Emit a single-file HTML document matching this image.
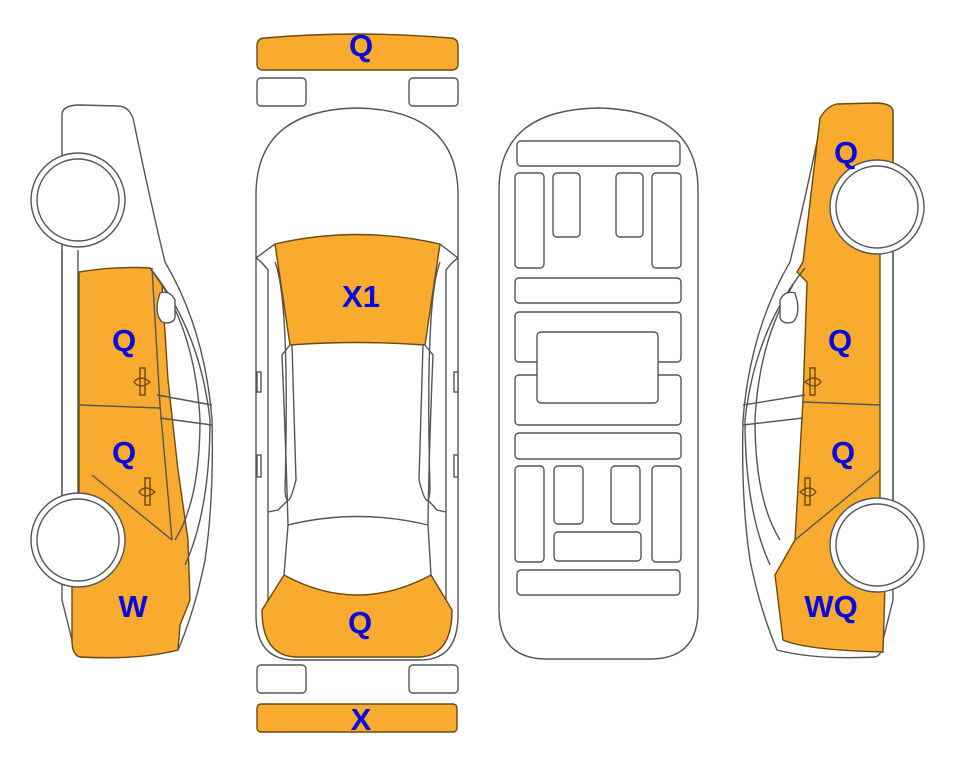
<!DOCTYPE html>
<html><head><meta charset="utf-8"><style>
html,body{margin:0;padding:0;background:#fff;}
svg{display:block;}
text{font-family:"Liberation Sans",Arial,sans-serif;font-weight:bold;fill:#0a0ad8;font-size:31px;text-anchor:middle;}
</style></head><body>
<svg width="963" height="768" viewBox="0 0 963 768" xmlns="http://www.w3.org/2000/svg">
<g fill="none" stroke="#555" stroke-width="1.4">

<path d="M257,46 Q257,38 265,38 Q357,30 450,38 Q458,38 458,46 L458,64 Q458,70 452,70 L263,70 Q257,70 257,64 Z" fill="#F9AB2F" stroke="#6b4a10"/>
<rect x="257" y="78" width="49" height="28" rx="4" fill="#fff"/>
<rect x="409" y="78" width="49" height="28" rx="4" fill="#fff"/>
<rect x="257" y="665" width="49" height="28" rx="4" fill="#fff"/>
<rect x="409" y="665" width="49" height="28" rx="4" fill="#fff"/>
<rect x="257" y="704" width="200" height="28" rx="4" fill="#F9AB2F" stroke="#6b4a10"/>

<path d="M256,195 Q256,110 357,108 Q458,110 458,195 L458,615 Q458,660 420,660 L295,660 Q256,660 256,615 Z" fill="#fff"/>
<path d="M275,244 Q357,225 440,244 L425,345 Q357,340 290,345 Z" fill="#F9AB2F" stroke="#6b4a10"/>
<path d="M256,258 L275,244 M440,244 L458,258"/>
<path d="M256,258 Q262,262 268,270 L268,610 M458,258 Q452,262 446,270 L446,610"/>
<path d="M275,262 Q290,300 285,490 Q287,515 296,480 L292,345 M440,262 Q425,300 430,490 Q428,515 419,480 L423,345"/>
<path d="M290,345 L282,355 Q286,450 288,525 M425,345 L433,355 Q429,450 428,525"/>
<path d="M288,525 Q357,508 428,525"/>
<path d="M288,500 L278,510 L268,512 M428,500 L437,510 L446,512"/>
<path d="M284,575 Q357,615 431,575 L452,610 Q452,655 420,657 L295,657 Q262,655 262,610 Z" fill="#F9AB2F" stroke="#6b4a10"/>
<path d="M288,525 L284,575 M428,525 L431,575"/>
<rect x="257" y="372" width="4" height="20" fill="#fff"/>
<rect x="454" y="372" width="4" height="20" fill="#fff"/>
<rect x="257" y="455" width="4" height="22" fill="#fff"/>
<rect x="454" y="455" width="4" height="22" fill="#fff"/>

<path d="M499,190 Q499,110 598,108 Q698,110 698,190 L698,610 Q698,659 650,659 L547,659 Q499,659 499,610 Z" fill="#fff"/>
<rect x="517" y="141" width="163" height="25" rx="4"/>
<rect x="515" y="173" width="29" height="95" rx="4"/>
<rect x="553" y="173" width="27" height="64" rx="4"/>
<rect x="616" y="173" width="27" height="64" rx="4"/>
<rect x="652" y="173" width="29" height="95" rx="4"/>
<rect x="515" y="278" width="166" height="25" rx="4"/>
<rect x="515" y="312" width="166" height="50" rx="4"/>
<rect x="515" y="375" width="166" height="50" rx="4"/>
<rect x="537" y="332" width="121" height="71" rx="4" fill="#fff"/>
<rect x="515" y="433" width="166" height="26" rx="4"/>
<rect x="515" y="466" width="29" height="96" rx="4"/>
<rect x="554" y="466" width="29" height="58" rx="4"/>
<rect x="611" y="466" width="29" height="58" rx="4"/>
<rect x="652" y="466" width="29" height="96" rx="4"/>
<rect x="554" y="532" width="87" height="29" rx="4"/>
<rect x="517" y="570" width="163" height="25" rx="4"/>

<path d="M62,115 Q62,105 80,105 L118,106 Q128,106 133,118 Q150,200 165,262 Q205,330 212,420 Q214,500 205,560 Q195,610 178,650 Q140,660 80,657 Q72,655 72,640 L62,600 Z" fill="#fff"/>
<path d="M79,272 Q115,266 150,268 L162,285 L168,380 L178,470 L188,540 L190,600 L180,625 L178,650 Q140,660 80,657 Q72,655 72,640 L72,585 L79,560 Z" fill="#F9AB2F" stroke="#6b4a10"/>
<path d="M150,268 Q200,330 210,420 Q210,510 185,565 M162,285 Q196,340 200,420 Q200,500 175,540 M157,395 L212,405 M160,418 L212,425 M152,268 L160,405 L172,540 M79,405 L160,408 M92,475 L172,540 M62,250 L62,500 M78,250 L78,500" stroke="#555"/>
<path d="M160,293 Q170,290 175,300 L175,318 Q172,325 162,322 Q155,315 158,300 Z" fill="#fff"/>
<path d="M140,368 L145,368 L145,395 L140,395 Z M134,382 Q140,374 150,382 Q140,390 134,382" stroke="#6b4a10"/>
<path d="M145,478 L150,478 L150,505 L145,505 Z M139,492 Q145,484 155,492 Q145,500 139,492" stroke="#6b4a10"/>
<circle cx="78" cy="200" r="47" fill="#fff"/><circle cx="78" cy="200" r="41" fill="#fff"/>
<circle cx="78" cy="540" r="47" fill="#fff"/><circle cx="78" cy="540" r="41" fill="#fff"/>

<g transform="translate(955,0) scale(-1,1)">
<path d="M62,115 Q62,105 80,105 L118,106 Q128,106 133,118 Q150,200 165,262 Q205,330 212,420 Q214,500 205,560 Q195,610 178,650 Q140,660 80,657 Q72,655 72,640 L62,600 Z" fill="#fff"/>
<path d="M62,112 Q62,103 80,103 L118,104 Q128,106 135,118 Q145,200 152,262 L158,272 L148,282 L152,400 L160,540 L180,575 L172,640 Q150,650 72,652 L70,585 L75,560 L75,250 L62,250 Z" fill="#F9AB2F" stroke="#6b4a10"/>
<path d="M150,268 Q200,330 210,420 Q210,510 185,565 M162,285 Q196,340 200,420 Q200,500 175,540 M150,395 L212,405 M152,418 L212,425 M75,405 L152,402 M75,470 L160,540 M62,250 L62,500" stroke="#555"/>
<path d="M160,293 Q170,290 175,300 L175,318 Q172,325 162,322 Q155,315 158,300 Z" fill="#fff"/>
<path d="M140,368 L145,368 L145,395 L140,395 Z M134,382 Q140,374 150,382 Q140,390 134,382" stroke="#6b4a10"/>
<path d="M145,478 L150,478 L150,505 L145,505 Z M139,492 Q145,484 155,492 Q145,500 139,492" stroke="#6b4a10"/>
<circle cx="78" cy="207" r="47" fill="#fff"/><circle cx="78" cy="207" r="41" fill="#fff"/>
<circle cx="78" cy="545" r="47" fill="#fff"/><circle cx="78" cy="545" r="41" fill="#fff"/>
</g>
</g>

<text x="361" y="56">Q</text>
<text x="361" y="307">X1</text>
<text x="360" y="633">Q</text>
<text x="361" y="730">X</text>
<text x="124" y="351">Q</text>
<text x="124" y="463">Q</text>
<text x="133" y="617">W</text>
<text x="846" y="163">Q</text>
<text x="840" y="351">Q</text>
<text x="843" y="463">Q</text>
<text x="831" y="617">WQ</text>
</svg>
</body></html>
